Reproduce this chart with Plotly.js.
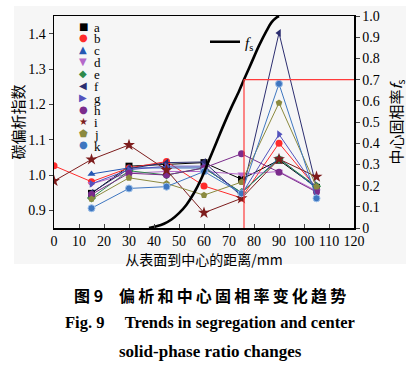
<!DOCTYPE html>
<html>
<head>
<meta charset="utf-8">
<script src="https://cdn.plot.ly/plotly-3.0.1.min.js"></script>
<style>
html,body{margin:0;padding:0;background:#fff;}
#chart{width:418px;height:368px;}
</style>
</head>
<body>
<div id="chart"></div>
<script>
// ---------- data ----------
const seriesNames = ["a","b","c","d","e","f","g","h","i","j","k"];
const xPos   = [15, 30, 45, 60, 75, 90, 105];
const xPos0  = [0, 15, 30, 45, 60, 75, 90, 105];

const valA = [0.948, 1.025, 1.030, 1.035, 0.988, 1.042, 0.965];
const valB = [1.026, 0.981, 1.020, 1.038, 0.969, 0.935, 1.090, 0.963];
const valC = [1.003, 1.020, 1.020, 1.020, 0.950, 1.048, 0.962];
const valD = [0.975, 1.005, 1.010, 1.010, 1.002, 1.010, 0.955];
const valE = [0.935, 1.012, 1.000, 1.020, 0.950, 1.045, 0.968];
const valF = [0.950, 1.018, 1.035, 1.037, 0.940, 1.402, 0.965];
const valG = [0.975, 1.015, 1.025, 1.025, 0.945, 1.115, 0.960];
const valH = [0.945, 1.005, 1.000, 1.020, 1.060, 1.008, 0.952];
const valI = [0.983, 1.044, 1.085, 1.014, 0.893, 0.934, 1.045, 0.995];
const valJ = [0.932, 0.992, 0.976, 0.943, 0.980, 1.204, 0.967];
const valK = [0.906, 0.962, 0.967, 1.010, 0.948, 1.258, 0.934];

const fsX = [38, 41, 44, 47, 50, 53, 56, 59, 62, 65, 68, 71, 74, 76, 79, 82, 85, 87, 89, 90];
const fsY = [0, 0.008, 0.02, 0.04, 0.07, 0.11, 0.165, 0.235, 0.32, 0.405, 0.49, 0.57, 0.645, 0.70, 0.78, 0.86, 0.93, 0.97, 0.993, 1.0];

const fsMarkX = 76;   // red guide: distance
const fsMarkY = 0.7;  // red guide: solid fraction

const xTicks = [0,10,20,30,40,50,60,70,80,90,100,110,120];
const fsTicks = [0,0.1,0.2,0.3,0.4,0.5,0.6,0.7,0.8,0.9,1.0];
const fsTickText = ["0","0.1","0.2","0.3","0.4","0.5","0.6","0.7","0.8","0.9","1.0"];

// ---------- styles ----------
const colors  = ["#000000","#ff2b2b","#2557b3","#b468c9","#2f8a4b","#2c2e70","#5353bd","#7b2c8c","#7d1c1c","#8b8a3f","#3e76c0"];
const symbols = ["square","circle","triangle-up","triangle-down","diamond","triangle-left","triangle-right","circle","star","pentagon","circle"];
const glyphs  = ["\u25A0","\u25CF","\u25B2","\u25BC","\u25C6","\u25C0","\u25B6","\u25CF","\u2605","\u2B1F","\u25CF"];
const allVals = [valA,valB,valC,valD,valE,valF,valG,valH,valI,valJ,valK];

const traces = [];
allVals.forEach((v, i) => {
  traces.push({
    type: "scatter", mode: "lines+markers",
    x: v.length === xPos0.length ? xPos0 : xPos,
    y: v, name: seriesNames[i], showlegend: false,
    line: {color: colors[i], width: 1},
    marker: {color: colors[i], symbol: symbols[i], size: symbols[i]==="star" ? 9 : 7,
             line: {width: i===10 ? 1 : 0, color: i===10 ? "#9cc0ea" : colors[i]}},
    xaxis: "x", yaxis: "y"
  });
});
traces.push({
  type: "scatter", mode: "lines", x: fsX, y: fsY,
  name: "<i>f</i><sub>s</sub>", showlegend: true,
  line: {color: "#000", width: 2.6, shape: "spline"},
  xaxis: "x", yaxis: "y2"
});

// plot geometry helpers (paper coords)
const L = 54, R = 354, T = 16, B = 228;
const px2x = p => (p - L) / (R - L);
const py2y = p => (B - p) / (B - T);

const annotations = [];
seriesNames.forEach((n, i) => {
  const py = 26 + 11.9 * i;
  annotations.push({xref:"paper", yref:"paper", x: px2x(83), y: py2y(py), xanchor:"center", yanchor:"middle",
    text: glyphs[i], showarrow:false, font:{family:"DejaVu Sans", size: 10, color: colors[i]}});
  annotations.push({xref:"paper", yref:"paper", x: px2x(92), y: py2y(py+1), xanchor:"left", yanchor:"middle",
    text: n, showarrow:false, font:{family:"Liberation Serif", size: 13, color:"#000"}});
});
const thin = s => s.split("").join("\u2009");
annotations.push({xref:"paper", yref:"paper", x: px2x(210), y: py2y(295), xanchor:"center", yanchor:"middle",
  text: "<b>图 9\u3000" + thin("偏析和中心固相率变化趋势") + "</b>", showarrow:false,
  font:{family:"Noto Sans CJK SC", size: 16, color:"#000"}});
annotations.push({xref:"paper", yref:"paper", x: px2x(210), y: py2y(322), xanchor:"center", yanchor:"middle",
  text: "<b>Fig. 9\u2003 Trends in segregation and center</b>", showarrow:false,
  font:{family:"Liberation Serif", size: 16.5, color:"#000"}});
annotations.push({xref:"paper", yref:"paper", x: px2x(210), y: py2y(351), xanchor:"center", yanchor:"middle",
  text: "<b>solid-phase ratio changes</b>", showarrow:false,
  font:{family:"Liberation Serif", size: 17, color:"#000"}});

const layout = {
  width: 418, height: 368,
  margin: {l: L, r: 418 - R, t: T, b: 368 - B},
  paper_bgcolor: "#ffffff", plot_bgcolor: "rgba(0,0,0,0)",
  font: {family: "Liberation Serif", size: 14, color: "#000"},
  xaxis: {
    range: [0, 120], tickvals: xTicks, ticks: "inside", ticklen: 4, tickwidth: 1,
    showline: true, linecolor: "#000", linewidth: 1.5, mirror: true, showgrid: false, zeroline: false,
    tickfont: {family: "Liberation Serif", size: 14},
    title: {text: "从表面到中心的距离/mm", font: {family: "Noto Sans CJK SC", size: 14}, standoff: 0}
  },
  yaxis: {
    range: [0.85, 1.45], dtick: 0.1, tick0: 0.9, ticks: "outside", ticklen: 4, tickwidth: 1,
    tickformat: ".1f",
    showline: true, linecolor: "#000", linewidth: 1.5, showgrid: false, zeroline: false,
    tickfont: {family: "Liberation Serif", size: 14},
    title: {text: "碳偏析指数", font: {family: "Noto Sans CJK SC", size: 15}, standoff: 0}
  },
  yaxis2: {
    overlaying: "y", side: "right", range: [0, 1], tickvals: fsTicks, ticktext: fsTickText,
    ticks: "outside", ticklen: 4, tickwidth: 1,
    showline: true, linecolor: "#000", linewidth: 1.5, showgrid: false, zeroline: false,
    tickfont: {family: "Liberation Serif", size: 14},
    title: {text: "中心固相率<i>f</i><sub>s</sub>", font: {family: "Noto Sans CJK SC", size: 15}, standoff: 12}
  },
  showlegend: true,
  legend: {x: px2x(205), y: py2y(42), xanchor: "left", yanchor: "middle", bgcolor: "rgba(0,0,0,0)",
           font: {family: "Liberation Serif", size: 15}, borderwidth: 0},
  shapes: [
    {type:"rect", xref:"paper", yref:"paper", x0: px2x(14), x1: px2x(406), y0: py2y(264), y1: py2y(6),
     fillcolor:"#f6f6f6", line:{width:0}, layer:"below"},
    {type:"line", xref:"x", yref:"y2", x0: fsMarkX, x1: fsMarkX, y0: 0, y1: fsMarkY, line:{color:"#ff3b3b", width:1.2}},
    {type:"line", xref:"x", yref:"y2", x0: fsMarkX, x1: 120, y0: fsMarkY, y1: fsMarkY, line:{color:"#ff3b3b", width:1.2}}
  ],
  annotations: annotations
};

Plotly.newPlot("chart", traces, layout, {displayModeBar: false, staticPlot: true});
</script>
</body>
</html>
